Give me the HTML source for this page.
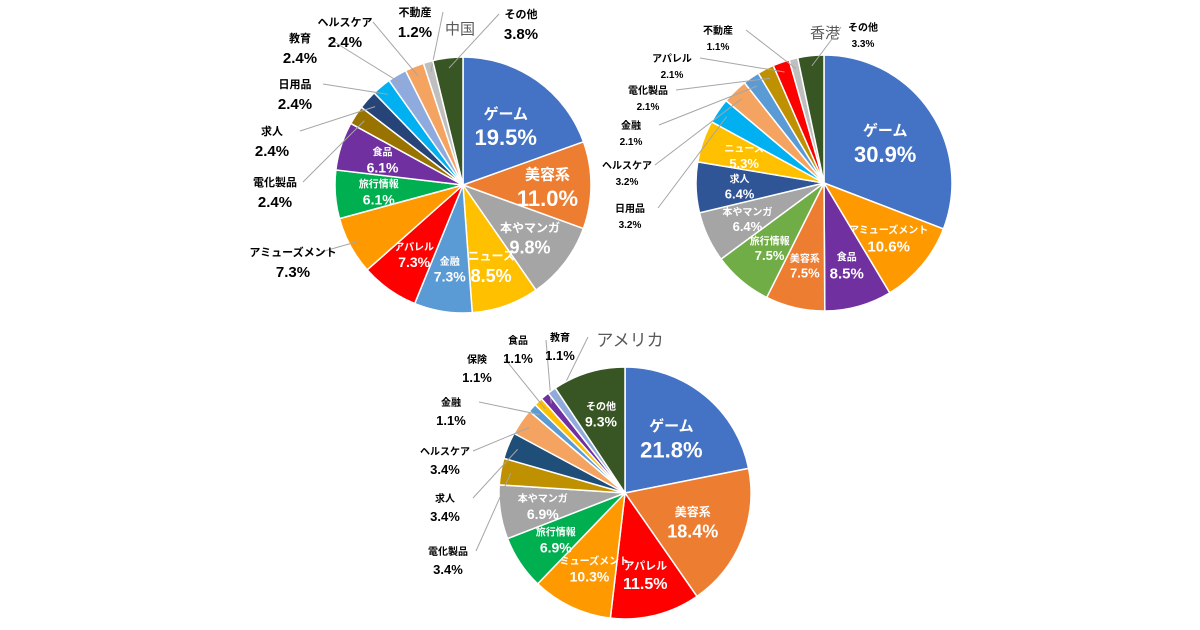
<!DOCTYPE html>
<html><head><meta charset="utf-8">
<style>
html,body{margin:0;padding:0;background:#fff;}
svg{display:block;font-family:"Liberation Sans","Noto Sans CJK JP",sans-serif;font-weight:bold;}
</style></head>
<body>
<svg id="chart" width="1200" height="630" viewBox="0 0 1200 630" xmlns="http://www.w3.org/2000/svg">
<rect width="1200" height="630" fill="#fff"/>
<text x="460" y="34" font-size="15" font-weight="normal" fill="#595959" text-anchor="middle">中国</text>
<text x="825" y="38" font-size="15" font-weight="normal" fill="#595959" text-anchor="middle">香港</text>
<text x="630" y="346" font-size="17" font-weight="normal" fill="#595959" text-anchor="middle">アメリカ</text>
</svg>
<script>
// ---- China ----
const cnCategories = ["ゲーム","美容系","本やマンガ","ニュース","金融","アパレル","アミューズメント","旅行情報","食品","電化製品","求人","日用品","教育","ヘルスケア","不動産","その他"];
const cnValues = [19.5,11.0,9.8,8.5,7.3,7.3,7.3,6.1,6.1,2.4,2.4,2.4,2.4,2.4,1.2,3.8];
const cnLabels = ["19.5%","11.0%","9.8%","8.5%","7.3%","7.3%","7.3%","6.1%","6.1%","2.4%","2.4%","2.4%","2.4%","2.4%","1.2%","3.8%"];
// ---- Hong Kong ----
const hkCategories = ["ゲーム","アミューズメント","食品","美容系","旅行情報","本やマンガ","求人","ニュース","日用品","ヘルスケア","金融","電化製品","アパレル","不動産","その他"];
const hkValues = [30.9,10.6,8.5,7.5,7.5,6.4,6.4,5.3,3.2,3.2,2.1,2.1,2.1,1.1,3.3];
const hkLabels = ["30.9%","10.6%","8.5%","7.5%","7.5%","6.4%","6.4%","5.3%","3.2%","3.2%","2.1%","2.1%","2.1%","1.1%","3.3%"];
// ---- USA ----
const usCategories = ["ゲーム","美容系","アパレル","アミューズメント","旅行情報","本やマンガ","電化製品","求人","ヘルスケア","金融","保険","食品","教育","その他"];
const usValues = [21.8,18.4,11.5,10.3,6.9,6.9,3.4,3.4,3.4,1.1,1.1,1.1,1.1,9.3];
const usLabels = ["21.8%","18.4%","11.5%","10.3%","6.9%","6.9%","3.4%","3.4%","3.4%","1.1%","1.1%","1.1%","1.1%","9.3%"];

const colorMap = {"ゲーム":"#4472C4","美容系":"#ED7D31","本やマンガ":"#A5A5A5","ニュース":"#FFC000","金融":"#5B9BD5","アパレル":"#FF0000","アミューズメント":"#FF9900","旅行情報":"#00B050","食品":"#7030A0","電化製品":"#BF9000","求人":"#264478","日用品":"#00B0F0","教育":"#8FAADC","ヘルスケア":"#F4A460","不動産":"#BFBFBF","その他":"#375623","保険":"#FFC000"};

const charts = [
  {id:"china",cats:cnCategories,vals:cnValues,labs:cnLabels,cx:463,cy:185,r:128,inside:9,skip:["アミューズメント"],
   big:{"ゲーム":22,"美容系":22,"本やマンガ":18,"ニュース":18},small:14,
   out:{"電化製品":[275,186],"求人":[272,135],"日用品":[295,88],"教育":[300,42],"ヘルスケア":[345,26],"不動産":[415,16],"その他":[521,18],"アミューズメント":[293,256]},outSize:[11,15],
   colorOverride:{"旅行情報":"#00B050","アミューズメント":"#FF9900","電化製品":"#997300"}},
  {id:"hongkong",cats:hkCategories,vals:hkValues,labs:hkLabels,cx:824,cy:183,r:128,inside:8,skip:[],
   big:{"ゲーム":22,"アミューズメント":15,"食品":15},small:13,
   out:{"日用品":[630,212],"ヘルスケア":[627,169],"金融":[631,129],"電化製品":[648,94],"アパレル":[672,62],"不動産":[718,34],"その他":[863,31]},outSize:[10,10],
   colorOverride:{"旅行情報":"#70AD47","求人":"#2F5597"}},
  {id:"usa",cats:usCategories,vals:usValues,labs:usLabels,cx:625,cy:493,r:126,inside:6,skip:[],
   big:{"ゲーム":22,"美容系":18,"アパレル":16},small:14,
   out:{"電化製品":[448,555],"求人":[445,502],"ヘルスケア":[445,455],"金融":[451,406],"保険":[477,363],"食品":[518,344],"教育":[560,341]},outSize:[10,13],
   colorOverride:{"求人":"#1F4E79","その他":"#375623"}}
];

const svg = document.getElementById('chart');
const NS = "http://www.w3.org/2000/svg";
function pt(cx,cy,r,a){return [cx+r*Math.sin(a), cy-r*Math.cos(a)];}
function txt(x,y,s,size,fill,name){
  const t=document.createElementNS(NS,'text');
  
  
  t.setAttribute('x',x);t.setAttribute('y',y);t.setAttribute('font-size',size);
  t.setAttribute('fill',fill);t.setAttribute('text-anchor','middle');t.textContent=s;svg.appendChild(t);
}
charts.forEach(c=>{
  const total=c.vals.reduce((a,b)=>a+b,0);
  let a0=0;
  c.cats.forEach((cat,i)=>{
    const sweep=c.vals[i]/total*2*Math.PI, a1=a0+sweep, mid=a0+sweep/2;
    const p0=pt(c.cx,c.cy,c.r,a0), p1=pt(c.cx,c.cy,c.r,a1);
    const path=document.createElementNS(NS,'path');
    
    
    path.setAttribute('d',`M${c.cx},${c.cy} L${p0[0]},${p0[1]} A${c.r},${c.r} 0 ${sweep>Math.PI?1:0} 1 ${p1[0]},${p1[1]} Z`);
    path.setAttribute('fill',(c.colorOverride[cat])||colorMap[cat]);
    path.setAttribute('stroke','#fff');path.setAttribute('stroke-width','1.5');
    svg.appendChild(path);
    if((i<c.inside && c.skip.indexOf(cat)<0) || (c.id==="usa" && cat==="その他")){
      const f=c.big[cat]||c.small;
      const rr=c.r*(c.vals[i]>15?0.58:0.66);
      const q=pt(c.cx,c.cy,rr,mid);
      txt(q[0],q[1]-f*0.25,cat,Math.max(10,Math.round(f*0.68)),"#fff",c.id+'-label-name-'+i);
      txt(q[0],q[1]+f*0.95,c.labs[i],f,"#fff",c.id+'-label-value-'+i);
    } else if(c.out[cat]){
      const [lx,ly]=c.out[cat];
      const e=pt(c.cx,c.cy,c.r*0.92,mid);
      const ln=document.createElementNS(NS,'polyline');
      
      
      const ax = lx + (lx<c.cx? 28: -22);
      ln.setAttribute('points',`${ax},${ly-4} ${e[0]},${e[1]}`);
      ln.setAttribute('stroke','#A6A6A6');ln.setAttribute('fill','none');ln.setAttribute('stroke-width','1');
      svg.appendChild(ln);
      txt(lx,ly,cat,c.outSize[0],"#000",c.id+'-outlabel-name-'+i);
      txt(lx,ly+c.outSize[1]+6,c.labs[i],c.outSize[1],"#000",c.id+'-outlabel-value-'+i);
    }
    a0=a1;
  });
});
</script>
</body></html>
